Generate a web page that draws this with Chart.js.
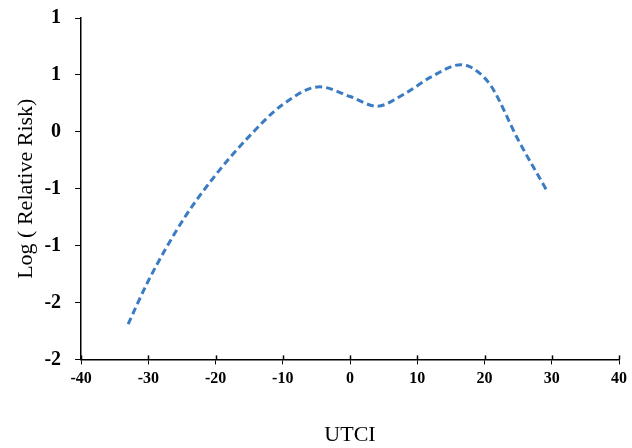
<!DOCTYPE html>
<html lang="en">
<head>
  <meta charset="UTF-8">
  <title>Log Relative Risk vs UTCI</title>
  <style>
    body { margin: 0; background: #fff; }
    .wrap { width: 632px; height: 448px; }
  </style>
</head>
<body>
<div class="wrap"><canvas id="riskChart" width="632" height="448"></canvas></div>

<script src="https://cdn.jsdelivr.net/npm/chart.js"></script>
<script>
  // Curve
  const utci = [-33, -30, -25, -20, -15, -10, -4.5, 0, 4, 8, 12, 16.5, 18.5, 21, 25, 29.2];
  const logRR = [-1.69, -1.31, -0.79, -0.38, -0.04, 0.24, 0.395, 0.31, 0.225, 0.33, 0.48, 0.59, 0.55, 0.40, -0.07, -0.51];

  // Axis ticks (y labels are rounded to whole numbers, as in the original)
  const xTickValues = [-40, -30, -20, -10, 0, 10, 20, 30, 40];
  const yTickValues = [1, 0.5, 0, -0.5, -1, -1.5, -2];
  const yTickLabels = ['1', '1', '0', '-1', '-1', '-2', '-2'];

  const serif = "'Liberation Serif', 'Times New Roman', serif";

  // x tick marks cross the axis line, so draw the upper half too
  const crossTicks = {
    id: 'crossTicks',
    afterDraw(chart) {
      const sx = chart.scales.x;
      const ctx = chart.ctx;
      ctx.save();
      ctx.strokeStyle = '#000';
      ctx.lineWidth = 1.5;
      xTickValues.forEach(v => {
        const px = Math.round(sx.getPixelForValue(v)) + 0.5;
        ctx.beginPath();
        ctx.moveTo(px, sx.top);
        ctx.lineTo(px, sx.top - 4);
        ctx.stroke();
      });
      ctx.restore();
    }
  };

  new Chart(document.getElementById('riskChart'), {
    type: 'line',
    data: {
      datasets: [{
        data: utci.map((x, i) => ({ x: x, y: logRR[i] })),
        borderColor: '#3b7bc2',
        borderWidth: 3,
        borderDash: [7, 4],
        pointRadius: 0,
        cubicInterpolationMode: 'monotone',
        fill: false
      }]
    },
    options: {
      responsive: false,
      animation: false,
      layout: { padding: { top: 3, right: 0, left: 13, bottom: 0 } },
      plugins: { legend: { display: false }, tooltip: { enabled: false } },
      scales: {
        x: {
          type: 'linear',
          min: -40, max: 40,
          afterBuildTicks: axis => { axis.ticks = xTickValues.map(v => ({ value: v })); },
          border: { color: '#000', width: 1.5 },
          grid: { drawOnChartArea: false, color: '#000', tickLength: 5 },
          ticks: {
            color: '#000', padding: 5, maxRotation: 0,
            font: { family: serif, size: 16, weight: 'bold' }
          },
          title: {
            display: true, text: 'UTCI', color: '#000',
            font: { family: serif, size: 22 },
            padding: { top: 28, bottom: 0 }
          }
        },
        y: {
          min: -2, max: 1,
          afterBuildTicks: axis => { axis.ticks = yTickValues.map(v => ({ value: v })); },
          border: { color: '#000', width: 1.5 },
          grid: { drawOnChartArea: false, color: '#000', tickLength: 6 },
          ticks: {
            color: '#000', padding: 14,
            font: { family: serif, size: 20, weight: 'bold', lineHeight: 0.4 },
            callback: (v) => yTickLabels[yTickValues.indexOf(v)]
          },
          title: {
            display: true, text: 'Log ( Relative Risk)', color: '#000',
            font: { family: serif, size: 22 },
            padding: { top: 0, bottom: -9 }
          }
        }
      }
    },
    plugins: [crossTicks]
  });
</script>
</body>
</html>
